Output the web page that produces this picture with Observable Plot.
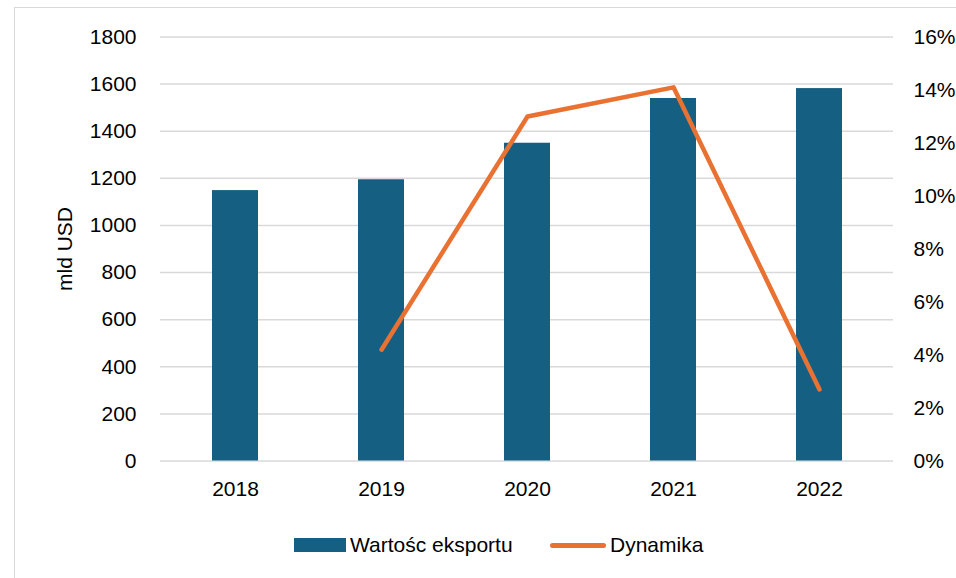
<!DOCTYPE html>
<html>
<head>
<meta charset="utf-8">
<script src="https://cdn.jsdelivr.net/npm/d3@7"></script>
<script src="https://cdn.jsdelivr.net/npm/@observablehq/plot@0.6"></script>
<style>
  html, body { margin: 0; padding: 0; background: #fff; }
  body { width: 956px; height: 578px; position: relative; overflow: hidden; font-family: "Liberation Sans", Arial, sans-serif; }
  #frame { position: absolute; left: 14px; top: 7px; width: 1000px; height: 600px; border-top: 1.5px solid #d9d9d9; border-left: 1.5px solid #d9d9d9; }
  #chart { position: absolute; left: 0; top: 0; }
  #legend { position: absolute; left: 0; top: 520px; width: 956px; height: 50px; font-size: 21px; color: #000; }
  .item { position: absolute; top: 14px; display: flex; align-items: center; height: 22px; }
  .swatch-bar { width: 52px; height: 14px; background: #156082; margin-right: 4px; }
  .swatch-line { width: 56px; height: 5px; background: #E97132; border-radius: 3px; margin-right: 4px; }
</style>
</head>
<body>
<div id="frame"></div>
<div id="chart"></div>
<div id="legend">
  <div class="item" style="left:294px"><div class="swatch-bar"></div><span id="l1"></span></div>
  <div class="item" style="left:550px"><div class="swatch-line"></div><span id="l2"></span></div>
</div>
<script>
const years = ["2018", "2019", "2020", "2021", "2022"];
const exportValues = [1148, 1194, 1349, 1539, 1581];
const dynamics = [null, 4.2, 13.0, 14.1, 2.7];
const leftTicks = [0, 200, 400, 600, 800, 1000, 1200, 1400, 1600, 1800];
const rightTicks = [0, 2, 4, 6, 8, 10, 12, 14, 16];
const seriesNames = ["Wartośc eksportu", "Dynamika"];
const yAxisTitle = "mld USD";

const ratio = 1800 / 16;
const table = years.map((y, i) => ({year: y, value: exportValues[i], pct: dynamics[i]}));
const lineData = table.filter(d => d.pct != null);

const chart = Plot.plot({
  width: 956,
  height: 520,
  marginLeft: 160,
  marginRight: 63,
  marginTop: 36.5,
  marginBottom: 59.5,
  style: {fontFamily: "'Liberation Sans', Arial, sans-serif", fontSize: "21px", color: "#000", background: "transparent", overflow: "visible"},
  x: {domain: years, paddingInner: 0.686, paddingOuter: 0.343},
  y: {domain: [0, 1800]},
  marks: [
    Plot.gridY(leftTicks, {stroke: "#d9d9d9", strokeOpacity: 1, strokeWidth: 1.5}),
    Plot.barY(table, {x: "year", y: "value", fill: "#156082"}),
    Plot.line(lineData, {x: "year", y: d => d.pct * ratio, stroke: "#E97132", strokeWidth: 4.5}),
    Plot.axisY(leftTicks, {anchor: "left", tickSize: 0, tickPadding: 24, tickFormat: d => String(d), label: null}),
    Plot.axisY(rightTicks.map(t => t * ratio), {anchor: "right", tickSize: 0, tickPadding: 20, tickFormat: d => Math.round(d / ratio) + "%", label: null}),
    Plot.axisX({tickSize: 0, tickPadding: 20, label: null}),
    Plot.text([yAxisTitle], {text: d => d, frameAnchor: "left", textAnchor: "middle", rotate: -90, dx: -95, fill: "#000"})
  ]
});
document.getElementById("chart").appendChild(chart);
document.getElementById("l1").textContent = seriesNames[0];
document.getElementById("l2").textContent = seriesNames[1];
</script>
</body>
</html>
